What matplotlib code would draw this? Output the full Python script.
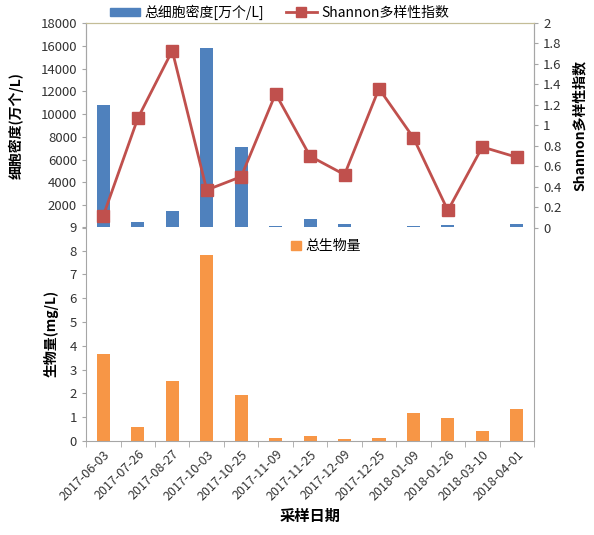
#!/usr/bin/env python3

import matplotlib

matplotlib.use("Agg")
import matplotlib.pyplot as plt
import numpy as np
from matplotlib.lines import Line2D
from matplotlib.patches import Patch

plt.rcParams["font.family"] = ["Noto Sans CJK SC", "DejaVu Sans"]

dates = [
    "2017-06-03", "2017-07-26", "2017-08-27", "2017-10-03", "2017-10-25",
    "2017-11-09", "2017-11-25", "2017-12-09", "2017-12-25", "2018-01-09",
    "2018-01-26", "2018-03-10", "2018-04-01",
]
cell_density = [10800, 550, 1500, 15800, 7150, 200, 780, 330, 0, 130, 230, 0, 320]
shannon = [0.12, 1.07, 1.73, 0.37, 0.50, 1.31, 0.70, 0.52, 1.36, 0.88, 0.17, 0.79, 0.69]
biomass = [3.66, 0.58, 2.53, 7.82, 1.91, 0.13, 0.22, 0.07, 0.13, 1.15, 0.94, 0.42, 1.36]

BLUE = "#4F81BD"
RED = "#C0504D"
ORANGE = "#F79646"
SPINE = "#A6A6A6"
TICK_TEXT = "#333333"


def style_axis(ax):
    for side in ("left", "right", "bottom", "top"):
        ax.spines[side].set_color(SPINE)
    ax.tick_params(colors=SPINE, labelcolor=TICK_TEXT, labelsize=9.5, length=3)


def main() -> None:
    fig = plt.figure(figsize=(5.94, 5.35), dpi=100)
    x = np.arange(len(dates))

    # top panel: cell density + Shannon index
    ax_top = fig.add_axes([0.145, 0.574, 0.754, 0.383])
    ax_top.bar(x, cell_density, width=0.38, color=BLUE, zorder=2)
    ax_top.set_ylim(0, 18000)
    ax_top.set_yticks(np.arange(0, 18001, 2000))
    ax_top.set_yticklabels([""] + [str(v) for v in range(2000, 18001, 2000)])
    ax_top.set_xlim(-0.5, len(dates) - 0.5)
    ax_top.set_xticks([])
    style_axis(ax_top)
    ax_top.spines["top"].set_color("#C4BD97")
    ax_top.set_ylabel("细胞密度(万个/L)", fontsize=10, fontweight="bold", labelpad=12)

    ax_sh = ax_top.twinx()
    ax_sh.plot(x, shannon, color=RED, lw=2, marker="s", ms=8.5, zorder=3)
    ax_sh.set_ylim(0, 2)
    ax_sh.set_yticks(np.arange(0, 2.01, 0.2))
    ax_sh.set_yticklabels(["0", "0.2", "0.4", "0.6", "0.8", "1", "1.2", "1.4", "1.6", "1.8", "2"])
    style_axis(ax_sh)
    ax_sh.spines["top"].set_color("#C4BD97")
    ax_sh.set_ylabel("Shannon多样性指数", fontsize=10, fontweight="bold", rotation=90, labelpad=8)

    handles = [
        Patch(color=BLUE),
        Line2D([], [], color=RED, lw=2, marker="s", ms=7),
    ]
    fig.legend(
        handles,
        ["总细胞密度[万个/L]", "Shannon多样性指数"],
        loc="center",
        bbox_to_anchor=(0.47, 0.977),
        ncol=2,
        frameon=False,
        fontsize=10,
        handlelength=2.2,
        handleheight=0.6,
        columnspacing=1.6,
        handletextpad=0.3,
    )

    # bottom panel: biomass
    ax_bot = fig.add_axes([0.145, 0.176, 0.754, 0.400])
    ax_bot.bar(x, biomass, width=0.38, color=ORANGE, zorder=2)
    ax_bot.set_ylim(0, 9)
    ax_bot.set_yticks(np.arange(0, 10, 1))
    ax_bot.set_xlim(-0.5, len(dates) - 0.5)
    ax_bot.set_xticks(x)
    ax_bot.set_xticklabels(dates, rotation=45, ha="right", rotation_mode="anchor")
    ax_bot.set_xticks(np.arange(-0.5, len(dates), 1), minor=True)
    style_axis(ax_bot)
    ax_bot.tick_params(axis="x", which="major", length=0, pad=5, labelsize=9)
    ax_bot.tick_params(axis="x", which="minor", length=4, colors=SPINE)
    ax_bot.spines["top"].set_visible(False)
    ax_bot.set_ylabel("生物量(mg/L)", fontsize=10, fontweight="bold", labelpad=8)
    ax_bot.set_xlabel("采样日期", fontsize=11, fontweight="bold", labelpad=4)
    ax_bot.legend(
        [Patch(color=ORANGE)],
        ["总生物量"],
        loc="upper left",
        bbox_to_anchor=(0.43, 1.0),
        frameon=False,
        fontsize=10,
        handlelength=0.7,
        handleheight=0.7,
        handletextpad=0.3,
    )

    fig.savefig("out.png", dpi=100)


if __name__ == "__main__":
    main()
